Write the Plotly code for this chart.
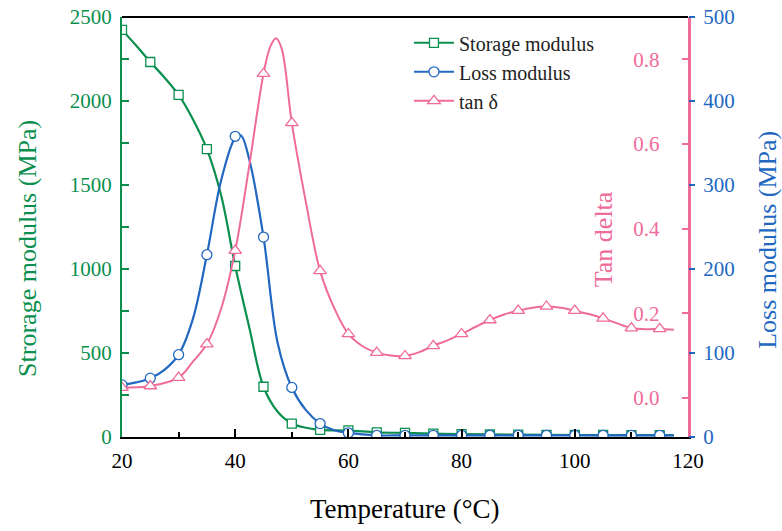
import plotly.graph_objects as go

# ---- data ----
marker_T = [20, 25, 30, 35, 40, 45, 50, 55, 60, 65, 70, 75, 80, 85, 90, 95, 100, 105, 110, 115]
storage_mk = [2423, 2232, 2036, 1714, 1018, 299, 80, 42, 40, 28, 25, 20, 17, 15, 14, 13, 12, 12, 11, 11]
loss_mk = [62, 70, 98, 217, 358, 238, 59, 16, 5, 2, 2, 2, 2, 2, 2, 2, 2, 2, 2, 2]
tan_mk = [0.024, 0.028, 0.048, 0.127, 0.348, 0.766, 0.650, 0.300, 0.151, 0.107, 0.099, 0.123,
          0.151, 0.184, 0.206, 0.216, 0.206, 0.188, 0.165, 0.163]

storage_T = [20, 22.5, 25, 27.5, 30, 32.5, 35, 37.5, 40, 42.5, 45, 47.5, 50, 52.5, 55, 60, 65, 70, 80, 90, 100, 110, 117.5]
storage_v = [2423, 2330, 2232, 2140, 2036, 1893, 1714, 1440, 1018, 650, 299, 150, 80, 55, 42, 38, 28, 24, 17, 14, 12, 11, 11]

loss_T = [20, 22.5, 25, 27.5, 30, 32.5, 35, 37.5, 40, 41, 42.5, 45, 47.5, 50, 52.5, 55, 57.5, 60, 65, 70, 80, 90, 100, 110, 117.5]
loss_v = [62, 65, 70, 80, 98, 140, 217, 305, 356, 359, 330, 238, 112, 59, 32, 16, 8, 5, 2, 2, 2, 2, 2, 2, 2]

tan_T = [20, 25, 30, 32.5, 35, 37.5, 40, 42.5, 45, 46.2, 47.2, 48.2, 50, 52.5, 55, 57.5, 60, 62.5, 65, 67.5, 70, 72.5,
         75, 77.5, 80, 82.5, 85, 87.5, 90, 92.5, 95, 97.5, 100, 102.5, 105, 107.5, 110, 112.5, 115, 117.5]
tan_v = [0.024, 0.028, 0.048, 0.085, 0.127, 0.210, 0.348, 0.550, 0.766, 0.830, 0.850, 0.826, 0.650, 0.462, 0.300, 0.212,
         0.151, 0.122, 0.107, 0.100, 0.099, 0.108, 0.123, 0.136, 0.151, 0.168, 0.184, 0.197, 0.206, 0.213, 0.216, 0.213,
         0.206, 0.198, 0.188, 0.176, 0.165, 0.162, 0.163, 0.161]

x_ticks = [20, 40, 60, 80, 100, 120]

GREEN = "#0b8f4f"
BLUE = "#2268c0"
PINK = "#ef6b9b"
FONT = "Liberation Serif"

fig = go.Figure()

# lines
fig.add_trace(go.Scatter(x=storage_T, y=storage_v, mode="lines", line=dict(color=GREEN, width=2.2, shape="spline", smoothing=1.0),
                         showlegend=False, yaxis="y", hoverinfo="skip"))
fig.add_trace(go.Scatter(x=loss_T, y=loss_v, mode="lines", line=dict(color=BLUE, width=2.2, shape="spline", smoothing=1.0),
                         showlegend=False, yaxis="y2", hoverinfo="skip"))
fig.add_trace(go.Scatter(x=tan_T, y=tan_v, mode="lines", line=dict(color=PINK, width=2.0, shape="spline", smoothing=1.0),
                         showlegend=False, yaxis="y3", hoverinfo="skip"))

# markers
fig.add_trace(go.Scatter(x=marker_T, y=tan_mk, mode="markers", yaxis="y3", showlegend=False,
                         marker=dict(symbol="triangle-up", size=11, color="white", line=dict(color=PINK, width=1.3))))
fig.add_trace(go.Scatter(x=marker_T, y=storage_mk, mode="markers", yaxis="y", showlegend=False,
                         marker=dict(symbol="square", size=9, color="white", line=dict(color=GREEN, width=1.3))))
fig.add_trace(go.Scatter(x=marker_T, y=loss_mk, mode="markers", yaxis="y2", showlegend=False,
                         marker=dict(symbol="circle", size=10, color="white", line=dict(color=BLUE, width=1.3))))

# legend entries
fig.add_trace(go.Scatter(x=[None], y=[None], mode="lines+markers", name="Storage modulus",
                         line=dict(color=GREEN, width=2),
                         marker=dict(symbol="square", size=9, color="white", line=dict(color=GREEN, width=1.3))))
fig.add_trace(go.Scatter(x=[None], y=[None], mode="lines+markers", name="Loss modulus",
                         line=dict(color=BLUE, width=2),
                         marker=dict(symbol="circle", size=10, color="white", line=dict(color=BLUE, width=1.3))))
fig.add_trace(go.Scatter(x=[None], y=[None], mode="lines+markers", name="tan δ",
                         line=dict(color=PINK, width=2),
                         marker=dict(symbol="triangle-up", size=11, color="white", line=dict(color=PINK, width=1.3))))

fig.update_layout(
    width=782, height=531,
    margin=dict(l=122, r=94, t=17, b=94),
    paper_bgcolor="white", plot_bgcolor="white",
    font=dict(family=FONT, size=20, color="black"),
    showlegend=True,
    legend=dict(x=0.507, y=0.985, xanchor="left", yanchor="top", bgcolor="rgba(255,255,255,0)",
                font=dict(family=FONT, size=20, color="#222"), tracegroupgap=0, itemwidth=40),
    xaxis=dict(range=[20, 120], tickvals=x_ticks, ticks="inside", ticklen=8, tickwidth=2, tickcolor="black",
               minor=dict(dtick=10, ticks="inside", ticklen=5, tickwidth=1.5, tickcolor="black"),
               showline=True, linecolor="black", linewidth=2, showgrid=False, zeroline=False, automargin=False,
               ticklabeloverflow="allow",
               tickfont=dict(family=FONT, size=21, color="black"), ticklabelstandoff=4),
    yaxis=dict(range=[0, 2500], dtick=500, ticks="inside", ticklen=7, tickwidth=1.5, tickcolor=GREEN,
               minor=dict(dtick=250, ticks="inside", ticklen=7, tickwidth=1.5, tickcolor=GREEN),
               showline=True, linecolor=GREEN, linewidth=2, showgrid=False, zeroline=False, automargin=False,
               ticklabeloverflow="allow",
               tickfont=dict(family=FONT, size=21, color=GREEN), ticklabelstandoff=4),
    yaxis2=dict(range=[0, 500], dtick=100, overlaying="y", side="right", anchor="x",
                ticks="outside", ticklen=6, tickwidth=1.5, tickcolor=BLUE, automargin=False,
                showline=False, showgrid=False, zeroline=False, ticklabeloverflow="allow",
                tickfont=dict(family=FONT, size=21, color=BLUE), ticklabelstandoff=4),
    yaxis3=dict(range=[-0.0925, 0.9], tickvals=[0.0, 0.2, 0.4, 0.6, 0.8], ticktext=["0.0", "0.2", "0.4", "0.6", "0.8"],
                overlaying="y", side="right", anchor="x", automargin=False,
                ticks="inside", ticklen=6, tickwidth=1.5, tickcolor=PINK, ticklabelposition="inside",
                ticklabeloverflow="allow",
                showline=True, linecolor=PINK, linewidth=2.5, showgrid=False, zeroline=False,
                tickfont=dict(family=FONT, size=21, color=PINK), ticklabelstandoff=24),
    shapes=[dict(type="line", xref="paper", yref="paper", x0=0, x1=1, y0=1, y1=1,
                 line=dict(color="black", width=2))],
    annotations=[
        dict(text="Temperature (°C)", xref="paper", yref="paper", x=0.5, y=-0.172, xanchor="center", yanchor="middle",
             showarrow=False, font=dict(family=FONT, size=27, color="black")),
        dict(text="Strorage modulus (MPa)", xref="paper", yref="paper", x=-0.168, y=0.45, xanchor="center", yanchor="middle",
             textangle=-90, showarrow=False, font=dict(family=FONT, size=26, color=GREEN)),
        dict(text="Loss modulus (MPa)", xref="paper", yref="paper", x=1.14, y=0.47, xanchor="center", yanchor="middle",
             textangle=-90, showarrow=False, font=dict(family=FONT, size=26, color=BLUE)),
        dict(text="Tan delta", xref="paper", yref="paper", x=0.851, y=0.47, xanchor="center", yanchor="middle",
             textangle=-90, showarrow=False, font=dict(family=FONT, size=26, color=PINK)),
    ],
)

fig.write_html("out.html", config={"displayModeBar": False},
               post_script="document.body.style.margin='0';document.body.style.overflow='hidden';")
